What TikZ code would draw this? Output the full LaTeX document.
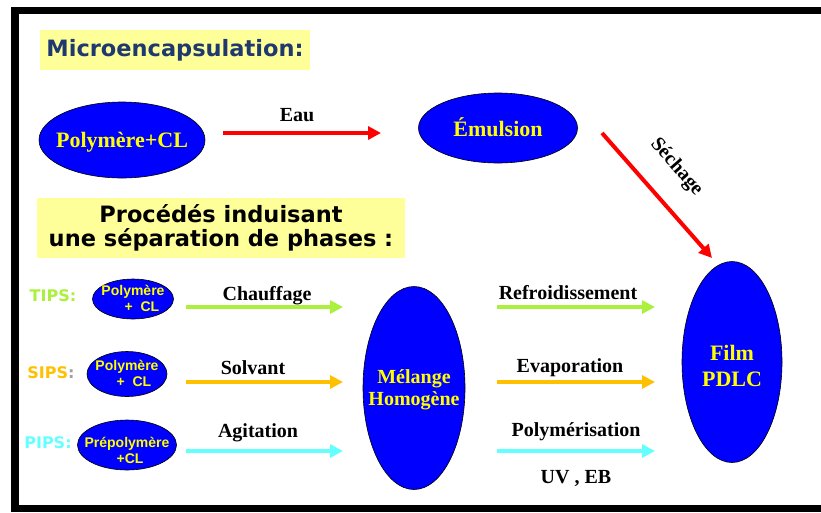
\documentclass[tikz,border=0pt]{standalone}
\usepackage{fontspec}
\setmainfont{Liberation Serif}
\newfontfamily\headfont{DejaVu Sans}
\newfontfamily\smallfont{Liberation Sans}
\usetikzlibrary{shapes.geometric,arrows.meta}
\definecolor{blobblue}{RGB}{0,0,255}
\definecolor{blobtext}{RGB}{255,255,0}
\definecolor{boxyellow}{RGB}{255,255,153}
\definecolor{headblue}{RGB}{31,56,110}
\definecolor{limegreen}{RGB}{170,240,60}
\definecolor{amber}{RGB}{255,192,0}
\definecolor{aqua}{RGB}{102,255,255}
\definecolor{arrowred}{RGB}{255,0,0}
\definecolor{colongray}{RGB}{160,160,160}
\newcommand{\blobtxt}[2][0pt]{\makebox[0pt]{\raisebox{\dimexpr#1-0.35em\relax}[0pt][0pt]{\smash{\begin{tabular}{@{}c@{}}#2\end{tabular}}}}}
\begin{document}
\begin{tikzpicture}[x=1pt,y=-1pt,
  blob/.style={ellipse,draw=black,line width=0.6pt,fill=blobblue,text=blobtext,inner sep=0pt},
  bigtxt/.style={font=\fontsize{22}{26}\selectfont\bfseries},
  midtxt/.style={font=\fontsize{20}{22}\selectfont\bfseries},
  smalltxt/.style={font=\smallfont\fontsize{14}{16}\selectfont\bfseries},
  hbox/.style={fill=boxyellow,inner sep=0pt,font=\headfont\fontsize{22.5}{24}\selectfont\bfseries,align=center},
  tag/.style={inner sep=0pt,font=\headfont\fontsize{16}{18}\selectfont\bfseries},
  lab/.style={inner sep=0pt,anchor=base,font=\fontsize{20}{22}\selectfont\bfseries,text=black},
  flow/.style={line width=4pt,-{Triangle[length=13pt,width=13pt]}}]
\useasboundingbox (0,0) rectangle (821,512);
% frame
\fill[black] (11,7) rectangle (821,14);
\fill[black] (11,7) rectangle (19,512);
\fill[black] (11,505) rectangle (821,512);
% headings
\node[hbox,minimum width=270pt,minimum height=40pt,text=headblue] (h1) at (175,50) {Microencapsulation:};
\node[hbox,minimum width=368pt,minimum height=60pt,text=black] (h2) at (221,228) {Procédés induisant\\une séparation de phases :};
% microencapsulation
\node[blob,bigtxt,minimum width=166pt,minimum height=76pt] (pcl) at (122,140) {\blobtxt{Polymère+CL}};
\node[blob,bigtxt,minimum width=159pt,minimum height=70pt] (emul) at (498,128) {\blobtxt{Émulsion}};
\coordinate (eauS) at (223,133);
\coordinate (eauE) at (381,133);
\draw[flow,arrowred] (eauS) -- (eauE);
\node[lab] (eau) at (297,121) {Eau};
\coordinate (secS) at (602,133);
\coordinate (secE) at (712,258);
\draw[flow,arrowred] (secS) -- node[pos=0.45,sloped,above=22pt,inner sep=0pt,text=black,font=\fontsize{20}{22}\selectfont\bfseries] (sechage) {Séchage} (secE);
% phase separation
\node[tag,text=limegreen] (tips) at (53,296) {TIPS:};
\node[tag] (sips) at (51,373) {\textcolor{amber}{SIPS}\textcolor{colongray}{:}};
\node[tag,text=aqua] (pips) at (48,443) {PIPS:};
\node[blob,smalltxt,minimum width=81pt,minimum height=40pt] (tipsb) at (133,299) {\blobtxt{Polymère\\\hspace*{18pt}+\ \ CL}};
\node[blob,smalltxt,minimum width=80pt,minimum height=45pt] (sipsb) at (127,374) {\blobtxt{Polymère\\\hspace*{14pt}+\ \ CL}};
\node[blob,smalltxt,minimum width=99pt,minimum height=50pt] (pipsb) at (127,445) {\blobtxt[-6pt]{Prépolymère\\\hspace*{6pt}+CL}};
\node[blob,midtxt,minimum width=102pt,minimum height=203pt] (mel) at (414,388) {\blobtxt{Mélange\\Homogène}};
\node[blob,bigtxt,minimum width=100pt,minimum height=201pt] (film) at (732,362) {\blobtxt[-4pt]{Film\\PDLC}};
% left arrows
\coordinate (t1) at (186,307); \coordinate (t2) at (343,307);
\coordinate (s1) at (186,382); \coordinate (s2) at (343,382);
\coordinate (p1) at (186,451); \coordinate (p2) at (343,451);
\draw[flow,limegreen] (t1) -- (t2);
\draw[flow,amber] (s1) -- (s2);
\draw[flow,aqua] (p1) -- (p2);
\node[lab] (chauf) at (267,300) {Chauffage};
\node[lab] (solv) at (253,374) {Solvant};
\node[lab] (agit) at (258,437) {Agitation};
% right arrows
\coordinate (r1) at (497,307); \coordinate (r2) at (655,307);
\coordinate (e1) at (497,382); \coordinate (e2) at (655,382);
\coordinate (m1) at (497,451); \coordinate (m2) at (655,451);
\draw[flow,limegreen] (r1) -- (r2);
\draw[flow,amber] (e1) -- (e2);
\draw[flow,aqua] (m1) -- (m2);
\node[lab] (refr) at (568,299) {Refroidissement};
\node[lab] (evap) at (570,372) {Evaporation};
\node[lab] (poly) at (576,436) {Polymérisation};
\node[lab] (uveb) at (576,483) {UV , EB};
\end{tikzpicture}
\end{document}
